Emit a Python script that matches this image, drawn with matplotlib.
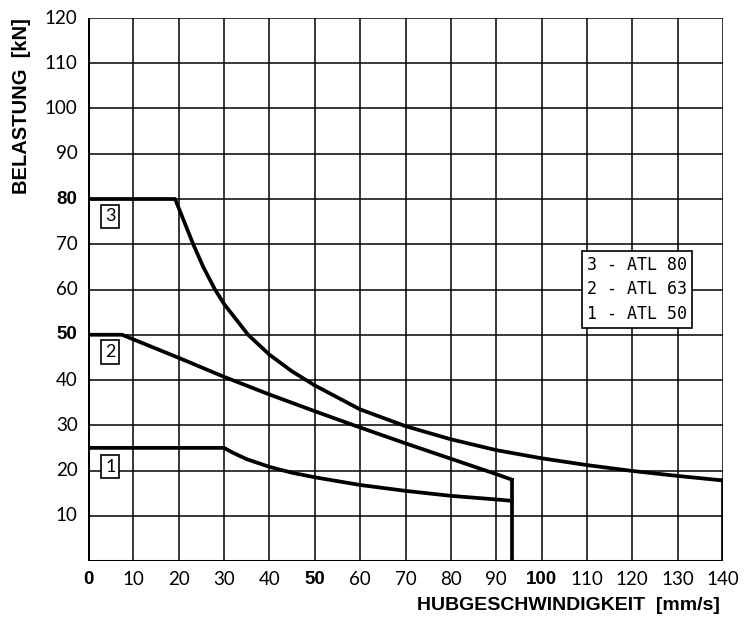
import matplotlib.pyplot as plt
import numpy as np

# Belastung ueber Hubgeschwindigkeit fuer drei Hubgetriebe
v3 = [0, 19.2, 21.2, 23.2, 25.4, 28, 30, 35.3, 40, 45, 50, 60, 70, 80, 90,
      100, 110, 120, 130, 140]
f3 = [80, 80, 75, 70, 65, 60, 56.8, 50, 45.6, 41.9, 38.8, 33.5, 29.8, 26.9, 24.5,
      22.7, 21.2, 19.9, 18.8, 17.8]

v2 = [0, 7.5, 20, 30, 40, 50, 60, 70, 80, 90, 93.4]
f2 = [50, 50, 44.9, 40.7, 36.8, 33.1, 29.5, 26.0, 22.6, 19.2, 18.0]

v1 = [0, 30, 32, 35, 40, 45, 50, 60, 70, 80, 90, 93.4]
f1 = [25, 25, 23.9, 22.5, 20.8, 19.5, 18.5, 16.8, 15.5, 14.4, 13.6, 13.3]

legende = ["3 - ATL 80", "2 - ATL 63", "1 - ATL 50"]
marken = ["3", "2", "1"]
marken_y = [76.2, 46.2, 20.8]

xticks = np.arange(0, 141, 10)
yticks = np.arange(10, 121, 10)
fett_x = [0, 50, 100]
fett_y = [50, 80]

fig = plt.figure(figsize=(7.56, 6.21), dpi=100)
ax = fig.add_axes([88/756, 1 - 561/621, 635/756, 543/621])

for x in xticks:
    ax.axvline(x, color='black', lw=1.1, zorder=1)
for y in yticks:
    ax.axhline(y, color='black', lw=1.1, zorder=1)
ax.axhline(0, color='black', lw=2.2, zorder=2)
ax.axvline(0, color='black', lw=2.2, zorder=2)

lw = 2.7
for v, f in [(v3, f3), (v2, f2), (v1, f1)]:
    ax.plot(v, f, color='black', lw=lw, zorder=3, solid_joinstyle='round')
# senkrechte Abschluesse bis zur Nulllinie
ax.plot([v2[-1], v2[-1]], [f2[-1], 0], color='black', lw=lw, zorder=3)
ax.plot([v3[-1], v3[-1]], [f3[-1], 0], color='black', lw=lw, zorder=3)

duenn = dict(family=['Lato', 'DejaVu Sans'], fontweight='normal')
fett = dict(family=['Liberation Sans', 'DejaVu Sans'], fontweight='bold')

for m, y in zip(marken, marken_y):
    ax.text(4.9, y, m, ha='center', va='center', fontsize=13, zorder=4, **duenn,
            bbox=dict(boxstyle='square,pad=0.2', fc='white', ec='black', lw=1.2))

ax.text(121, 60, "\n".join(legende), ha='center', va='center', fontsize=12,
        family='DejaVu Sans Mono', linespacing=1.45, zorder=4,
        bbox=dict(boxstyle='square,pad=0.3', fc='white', ec='black', lw=1.2))

ax.set_xlim(0, 140)
ax.set_ylim(0, 120)
for s in ax.spines.values():
    s.set_visible(False)
ax.set_xticks([])
ax.set_yticks([])

for x in xticks:
    st = fett if x in fett_x else duenn
    ax.text(x, -4, str(x), ha='center', va='center', fontsize=13.5, clip_on=False, **st)
for y in yticks:
    st = fett if y in fett_y else duenn
    ax.text(-2.3, y, str(y), ha='right', va='center', fontsize=13.5, clip_on=False, **st)

fig.text(720/756, 1 - 606/621, "HUBGESCHWINDIGKEIT  [mm/s]", ha='right', va='center',
         fontsize=14, **fett)
fig.text(22/756, 1 - 18/621, "BELASTUNG  [kN]", ha='center', va='top',
         rotation=90, fontsize=14.5, **fett)

fig.savefig('out.png', dpi=100)
